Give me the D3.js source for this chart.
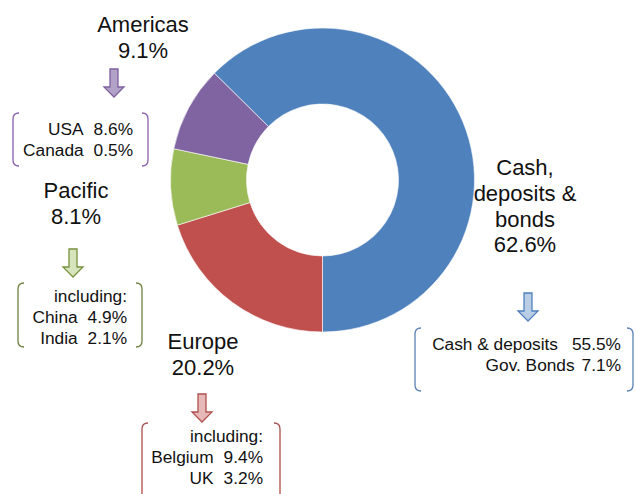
<!DOCTYPE html>
<html>
<head>
<meta charset="utf-8">
<script src="https://cdn.jsdelivr.net/npm/d3@7"></script>
<style>
  body { margin: 0; background: #fff; }
  svg text { font-family: "Liberation Sans", Arial, sans-serif; fill: #111; }
</style>
</head>
<body>
<svg id="chart" width="636" height="494"></svg>
<script>
'use strict';

// Slices, clockwise from the bottom of the ring
var regions = ["Cash, deposits & bonds", "Europe", "Pacific", "Americas"];
var shares = [62.6, 20.2, 8.1, 9.1];

// Big labels next to the ring (one entry per line)
var titleLines = [
    ["Cash,", "deposits &", "bonds"],
    ["Europe"],
    ["Pacific"],
    ["Americas"]
];

// Breakdown shown in the bracket boxes
var detailHeaders = ["", "including:", "including:", ""];
var detailNames = [
    ["Cash & deposits", "Gov. Bonds"],
    ["Belgium", "UK"],
    ["China", "India"],
    ["USA", "Canada"]
];
var detailValues = [
    [55.5, 7.1],
    [9.4, 3.2],
    [4.9, 2.1],
    [8.6, 0.5]
];

var colors = {
    slice: ["#4f81bd", "#c0504d", "#9bbb59", "#8064a2"],
    arrow_fill: ["#b9cde5", "#e6b9b8", "#d7e4bd", "#b3a2c7"],
    arrow_stroke: ["#4f81bd", "#b0504d", "#77933c", "#7f5fa0"],
    bracket: ["#5b82b6", "#a8504d", "#6f7f45", "#8a5fb0"],
};

// where each label group sits (title centre, arrow, box, gap name->value in px)
var layout = [
    { tx: 525, ty: 175, arrowX: 528, arrowY: 293, box: [415, 328, 633, 391], textX: 621, gaps: [14, 7] },
    { tx: 203, ty: 349, arrowX: 202, arrowY: 394, box: [142, 423, 280, 500], textX: 263, gaps: [10, 10] },
    { tx: 76, ty: 198, arrowX: 73, arrowY: 249, box: [18, 283, 142, 347], textX: 127, gaps: [10, 10] },
    { tx: 143, ty: 32, arrowX: 114, arrowY: 69, box: [13, 113, 148, 166], textX: 133, gaps: [10, 10] },
];

var width = 636, height = 494;
var svg = d3.select("#chart");

var cx = 322.5, cy = 180;
var outerR = 152, innerR = 76;

var total = d3.sum(shares);
var start = Math.PI - 2 * Math.PI * shares[0] / total;

var pie = d3.pie()
    .sort(null)
    .value(function(d) { return d; })
    .startAngle(start)
    .endAngle(start + 2 * Math.PI);

var arc = d3.arc()
    .innerRadius(innerR)
    .outerRadius(outerR);

svg.append("g")
    .attr("transform", "translate(" + cx + "," + cy + ")")
    .selectAll("path")
    .data(pie(shares))
    .join("path")
    .attr("d", arc)
    .attr("fill", function(d, i) { return colors.slice[i]; })
    .attr("stroke", "#fff")
    .attr("stroke-width", 0.6);

function fmt(v) { return d3.format(".1f")(v) + "%"; }

// down arrow, shaft then head
function arrowPath(x, y) {
    var sw = 4, hw = 10, len = 28, headLen = 10;
    return "M" + (x - sw) + "," + y +
        "L" + (x + sw) + "," + y +
        "L" + (x + sw) + "," + (y + len - headLen) +
        "L" + (x + hw) + "," + (y + len - headLen) +
        "L" + x + "," + (y + len) +
        "L" + (x - hw) + "," + (y + len - headLen) +
        "L" + (x - sw) + "," + (y + len - headLen) + "Z";
}

function bracketPath(x0, y0, x1, y1) {
    var c = 6;
    return "M" + (x0 + c) + "," + y0 +
        "Q" + x0 + "," + y0 + " " + x0 + "," + (y0 + c) +
        "L" + x0 + "," + (y1 - c) +
        "Q" + x0 + "," + y1 + " " + (x0 + c) + "," + y1 +
        "M" + (x1 - c) + "," + y0 +
        "Q" + x1 + "," + y0 + " " + x1 + "," + (y0 + c) +
        "L" + x1 + "," + (y1 - c) +
        "Q" + x1 + "," + y1 + " " + (x1 - c) + "," + y1;
}

regions.forEach(function(name, i) {
    var L = layout[i];
    var g = svg.append("g");

    var lines = titleLines[i].concat([fmt(shares[i])]);
    g.selectAll("text.title")
        .data(lines)
        .join("text")
        .attr("class", "title")
        .attr("x", L.tx)
        .attr("y", function(d, j) { return L.ty + j * 25.8; })
        .attr("text-anchor", "middle")
        .style("font-size", "22px")
        .text(function(d) { return d; });

    g.append("path")
        .attr("d", arrowPath(L.arrowX, L.arrowY))
        .attr("fill", colors.arrow_fill[i])
        .attr("stroke", colors.arrow_stroke[i])
        .attr("stroke-width", 1.3);

    g.append("path")
        .attr("d", bracketPath(L.box[0], L.box[1], L.box[2], L.box[3]))
        .attr("fill", "none")
        .attr("stroke", colors.bracket[i])
        .attr("stroke-width", 1.3);

    var hasHeader = !!detailHeaders[i];
    var firstY = hasHeader ? L.box[1] + 19 : L.box[1] + 22;

    if (hasHeader) {
        g.append("text")
            .attr("x", L.textX)
            .attr("y", firstY)
            .attr("text-anchor", "end")
            .style("font-size", "17.3px")
            .text(detailHeaders[i]);
    }

    var off = hasHeader ? 1 : 0;
    var rows = g.selectAll("text.detail")
        .data(detailNames[i])
        .join("text")
        .attr("class", "detail")
        .attr("x", L.textX)
        .attr("y", function(d, k) { return firstY + (k + off) * 21; })
        .attr("text-anchor", "end")
        .style("font-size", "17.3px");

    rows.append("tspan")
        .text(function(d) { return d; });
    rows.append("tspan")
        .attr("dx", function(d, k) { return L.gaps[k]; })
        .text(function(d, k) { return fmt(detailValues[i][k]); });
});
</script>
</body>
</html>
